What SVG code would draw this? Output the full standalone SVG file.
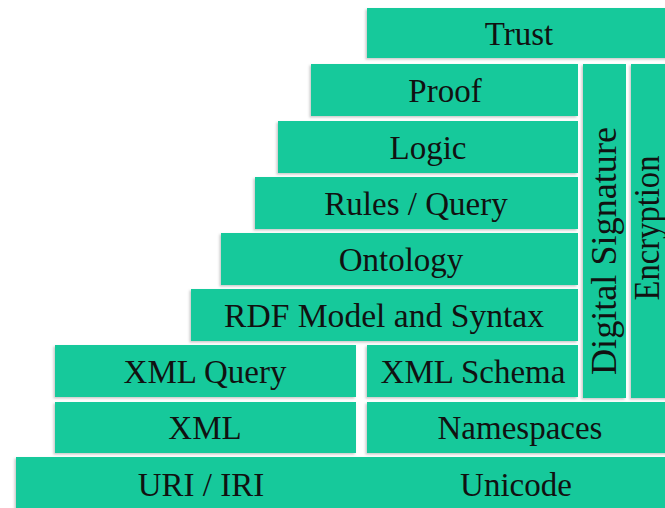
<svg xmlns="http://www.w3.org/2000/svg" width="665" height="508" viewBox="0 0 665 508">
<defs>
<filter id="sh" x="-10%" y="-10%" width="120%" height="130%">
<feDropShadow dx="-1.5" dy="1.5" stdDeviation="1" flood-color="#888" flood-opacity="0.45"/>
</filter>
<style>
.b{fill:#16C99B;filter:url(#sh);}
.t{fill:#111;text-anchor:middle;font-family:"Liberation Serif","Times New Roman",serif;}
</style>
</defs>
<rect width="665" height="508" fill="#fff"/>
<g font-size="33">
<g id="trust"><rect class="b" x="367" y="8" width="310" height="50"/><text class="t" x="519" y="45">Trust</text></g>
<g id="proof"><rect class="b" x="311" y="64" width="267" height="52"/><text class="t" x="445" y="102">Proof</text></g>
<g id="logic"><rect class="b" x="278" y="121" width="300" height="52"/><text class="t" x="428" y="159">Logic</text></g>
<g id="rules"><rect class="b" x="255" y="177" width="323" height="52"/><text class="t" x="416" y="215">Rules / Query</text></g>
<g id="ontology"><rect class="b" x="221" y="233" width="357" height="52"/><text class="t" x="401" y="271">Ontology</text></g>
<g id="rdf"><rect class="b" x="191" y="289" width="387" height="52"/><text class="t" x="384" y="327" textLength="320" lengthAdjust="spacingAndGlyphs">RDF Model and Syntax</text></g>
<g id="xmlquery"><rect class="b" x="55" y="345" width="301" height="52"/><text class="t" x="205" y="383">XML Query</text></g>
<g id="xmlschema"><rect class="b" x="367" y="345" width="211" height="52"/><text class="t" x="473" y="383">XML Schema</text></g>
<g id="digsig"><rect class="b" x="583" y="64" width="43" height="334"/><text class="t" font-size="36" textLength="248" lengthAdjust="spacingAndGlyphs" transform="translate(616,251) rotate(-90)">Digital Signature</text></g>
<g id="encryption"><rect class="b" x="631" y="64" width="50" height="334"/><text class="t" font-size="36" textLength="145" lengthAdjust="spacingAndGlyphs" transform="translate(659,228) rotate(-90)">Encryption</text></g>
<g id="xml"><rect class="b" x="55" y="402" width="301" height="51"/><text class="t" x="205" y="439">XML</text></g>
<g id="namespaces"><rect class="b" x="367" y="402" width="310" height="51"/><text class="t" x="520" y="439">Namespaces</text></g>
<g id="uri"><rect class="b" x="16" y="457" width="660" height="60"/><text class="t" x="201" y="496">URI / IRI</text><text class="t" x="516" y="496">Unicode</text></g>
</g>
<g id="connectors"/>
</svg>
